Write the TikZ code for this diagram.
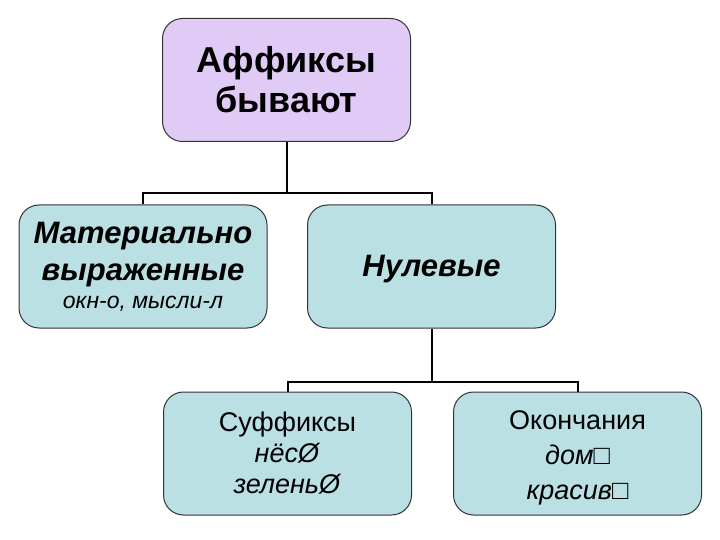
\documentclass[tikz,border=0pt]{standalone}
\usepackage{fontspec}
\setmainfont{Liberation Sans}
\usetikzlibrary{positioning}
\definecolor{BoxLilac}{RGB}{224,202,246}
\definecolor{BoxTeal}{RGB}{186,224,228}

\tikzset{
  affbox/.style={draw=black!80,line width=1pt,rounded corners=20pt,
    minimum width=248pt,minimum height=123pt,align=center,inner sep=0pt},
  link/.style={line width=2pt,black}
}

\begin{document}
\begin{tikzpicture}[x=1pt,y=-1pt]
  \useasboundingbox (0,0) rectangle (720,540);
  \node[affbox,fill=BoxLilac,font=\fontsize{36}{40}\selectfont\bfseries] (aff) at (286.5,80)
    {Аффиксы\\бывают};
  \node[affbox,fill=BoxTeal,font=\fontsize{31}{37}\selectfont] (mat) at (143,266.5)
    {\textbf{\textit{Материально}}\\\textbf{\textit{выраженные}}\\[-9pt]
     {\fontsize{23}{26}\selectfont\itshape окн-о, мысли-л}};
  \node[affbox,fill=BoxTeal,font=\fontsize{31}{36}\selectfont\bfseries\itshape] (nul) at (431.5,266.5)
    {\rule{0pt}{27pt}Нулевые};
  \node[affbox,fill=BoxTeal,font=\fontsize{27}{31}\selectfont] (suf) at (287.5,453.5)
    {Суффиксы\\\textit{нёсØ}\\\textit{зеленьØ}};
  \node[affbox,fill=BoxTeal,font=\fontsize{27}{35}\selectfont] (okon) at (577.5,453.5)
    {\rule{0pt}{28pt}Окончания\\\textit{дом□}\\\textit{красив□}};
  % connectors
  \coordinate (fork1) at (286.5,193);
  \coordinate (fork2) at (431.5,382);
  \draw[link] (aff.south) -- (fork1);
  \draw[link] (mat.north) |- (fork1) -| (nul.north);
  \draw[link] (nul.south) -- (fork2);
  \draw[link] (suf.north) |- (fork2) -| (okon.north);
\end{tikzpicture}
\end{document}
